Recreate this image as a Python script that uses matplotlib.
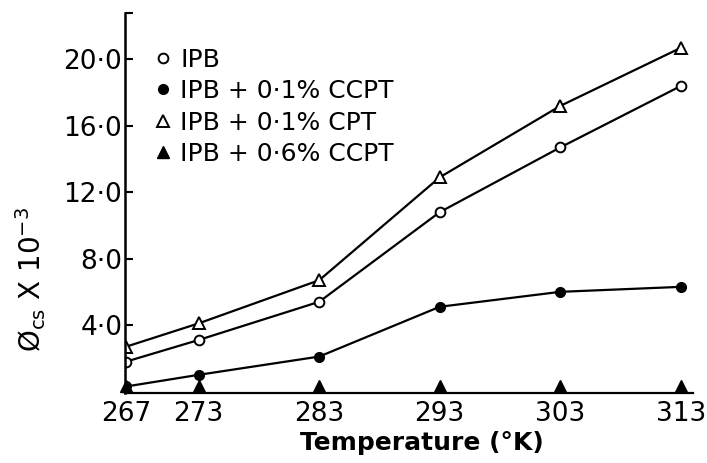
import numpy as np
import matplotlib
matplotlib.use("Agg")
import matplotlib.pyplot as plt
from matplotlib.lines import Line2D

# temperatures (deg K) and phi_cs x 10^-3
temps = [267, 273, 283, 293, 303, 313]
tick_labels = ["267", "273", "283", "293", "303", "313"]
ipb = [1.8, 3.1, 5.4, 10.8, 14.7, 18.4]
ipb_ccpt01 = [0.3, 1.0, 2.1, 5.1, 6.0, 6.3]
ipb_cpt01 = [2.7, 4.1, 6.7, 12.9, 17.2, 20.7]
ipb_ccpt06 = [0.3, 0.3, 0.3, 0.3, 0.3, 0.3]
yticks = [4.0, 8.0, 12.0, 16.0, 20.0]
ytick_labels = ["4·0", "8·0", "12·0", "16·0", "20·0"]
series_names = ["IPB", "IPB + 0·1% CCPT", "IPB + 0·1% CPT", "IPB + 0·6% CCPT"]

plt.rcParams['font.family'] = ['DejaVu Sans']

fig = plt.figure(figsize=(7.07, 4.63), dpi=100)
ax = fig.add_axes([0.177, 0.151, 0.803, 0.821])

lw = 1.6
styles = [
    dict(marker="o", ms=7, mfc="white", mec="black", mew=1.4),
    dict(marker="o", ms=7, mfc="black", mec="black"),
    dict(marker="^", ms=9, mfc="white", mec="black", mew=1.4),
    dict(marker="^", ms=9, mfc="black", mec="black"),
]
ax.plot(temps, ipb, color="black", lw=lw, **styles[0])
ax.plot(temps, ipb_ccpt01, color="black", lw=lw, **styles[1])
ax.plot(temps, ipb_cpt01, color="black", lw=lw, **styles[2])
ax.plot(temps, ipb_ccpt06, color="black", lw=0, clip_on=False, **styles[3])

ax.set_xlim(266.9, 314.0)
ax.set_ylim(-0.1, 22.8)

ax.spines["top"].set_visible(False)
ax.spines["right"].set_visible(False)
ax.spines["left"].set_linewidth(1.8)
ax.spines["bottom"].set_linewidth(1.6)

ax.set_yticks(yticks)
ax.set_yticklabels(ytick_labels, fontsize=19)
ax.set_yticks([22.8], minor=True)
ax.tick_params(axis="y", which="both", direction="in", length=6, width=1.5, pad=2)
ax.set_xticks(temps)
ax.set_xticklabels(tick_labels, fontsize=19)
ax.tick_params(axis="x", length=0, pad=6)

ax.set_xlabel("Temperature (°K)", fontsize=18, fontweight="bold", labelpad=0)
ax.xaxis.set_label_coords(0.523, -0.10)
ax.set_ylabel("Ø$_{\\mathregular{cs}}$ X 10$^{\\mathregular{-3}}$", fontsize=20, labelpad=4)
ax.yaxis.set_label_coords(-0.135, 0.3)

# legend shows markers only, no line
handles = [Line2D([], [], lw=0, color="black", **st) for st in styles]
leg = ax.legend(handles, series_names, loc="upper left", bbox_to_anchor=(0.035, 0.935),
                frameon=False, fontsize=18, handlelength=0.6, handletextpad=0.4,
                labelspacing=0.3, borderaxespad=0)

fig.savefig("out.png", dpi=100)
